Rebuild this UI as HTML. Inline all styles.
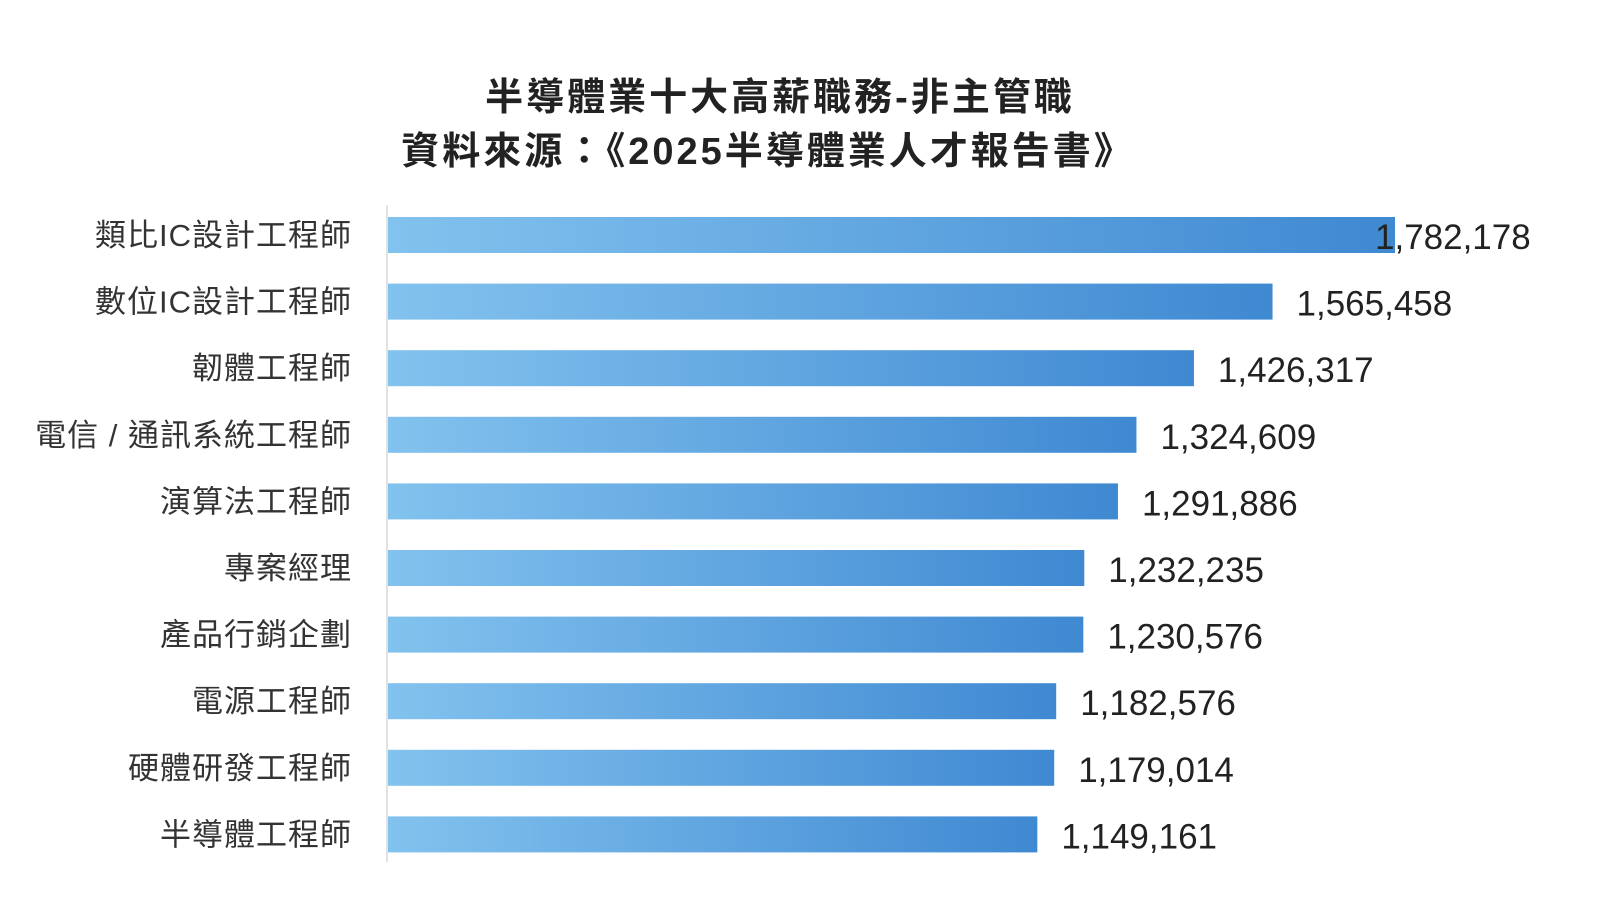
<!DOCTYPE html>
<html><head><meta charset="utf-8"><style>
body{margin:0;background:#fff;}
svg text{font-family:"Liberation Sans","Noto Sans CJK TC",sans-serif;}
</style></head><body>
<svg width="1600" height="904" viewBox="0 0 1600 904">
<defs>
<linearGradient id="g" x1="0" x2="1" y1="0" y2="0">
<stop offset="0" stop-color="#82c2ee"/><stop offset="1" stop-color="#3f89d2"/>
</linearGradient>
</defs>
<text x="780" y="110" text-anchor="middle" font-size="38" font-weight="bold" letter-spacing="3" fill="#222">半導體業十大高薪職務-非主管職</text>
<text x="768" y="164" text-anchor="middle" font-size="38" font-weight="bold" letter-spacing="3" fill="#222">資料來源：《2025半導體業人才報告書》</text>
<line x1="387" y1="205" x2="387" y2="862" stroke="#d8d8d8" stroke-width="1.5"/>
<g id="bars"></g>
</svg>
<script>
const categories=["類比IC設計工程師","數位IC設計工程師","韌體工程師","電信 / 通訊系統工程師","演算法工程師","專案經理","產品行銷企劃","電源工程師","硬體研發工程師","半導體工程師"];
const values=[1782178,1565458,1426317,1324609,1291886,1232235,1230576,1182576,1179014,1149161];
const x0=388,xMaxPx=1395,vMax=1782178;
const xs=v=>x0+(v/vMax)*(xMaxPx-x0);
const rowY=i=>235+i*66.6;
const g=document.getElementById('bars');
const ns="http://www.w3.org/2000/svg";
categories.forEach((c,i)=>{
  const v=values[i],cy=rowY(i),end=xs(v);
  const r=document.createElementNS(ns,'rect');
  
  
  r.setAttribute('x',x0);r.setAttribute('y',cy-18);
  r.setAttribute('width',end-x0);r.setAttribute('height',36);
  r.setAttribute('fill','url(#g)');
  g.appendChild(r);
  const t=document.createElementNS(ns,'text');
  
  
  t.setAttribute('x',352);t.setAttribute('y',cy+11);
  t.setAttribute('text-anchor','end');t.setAttribute('font-size','31');t.setAttribute('letter-spacing','1');t.setAttribute('fill','#333');
  t.textContent=c;g.appendChild(t);
  const vt=document.createElementNS(ns,'text');
  
  
  vt.setAttribute('x',Math.min(end+24,1375));vt.setAttribute('y',cy+14);
  vt.setAttribute('font-size','35');vt.setAttribute('fill','#222');
  vt.textContent=v.toLocaleString('en-US');g.appendChild(vt);
});
</script>
</body></html>
